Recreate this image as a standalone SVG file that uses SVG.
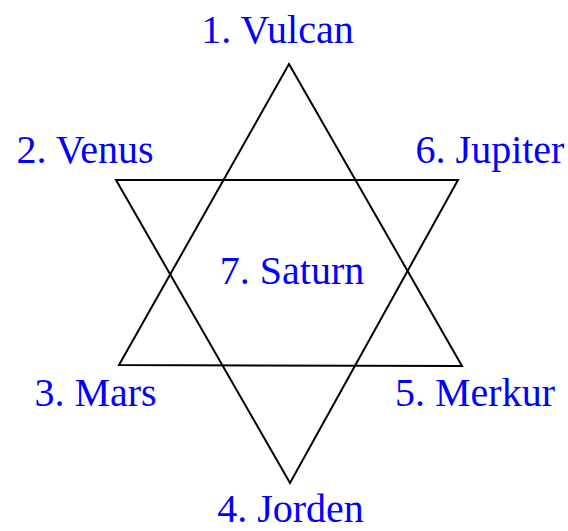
<svg xmlns="http://www.w3.org/2000/svg" width="568" height="531" viewBox="0 0 568 531">
<style>
.lbl{font-family:"Liberation Serif","Times New Roman",serif;font-size:40px;fill:#0000ff;text-anchor:middle}
.tri{fill:none;stroke:#000;stroke-width:2;stroke-linejoin:miter}
</style>
<rect width="568" height="531" fill="#fff"/>
<g id="connectors">
<polygon class="tri" points="289,64 462,366 119,365"/>
<polygon class="tri" points="116,180 458,180 290,483"/>
</g>
<g id="n1"><text class="lbl" x="277.5" y="43">1. Vulcan</text></g>
<g id="n2"><text class="lbl" x="85" y="163">2. Venus</text></g>
<g id="n6"><text class="lbl" x="490" y="163">6. Jupiter</text></g>
<g id="n7"><text class="lbl" x="292" y="284">7. Saturn</text></g>
<g id="n3"><text class="lbl" x="95.5" y="406">3. Mars</text></g>
<g id="n5"><text class="lbl" x="475" y="406">5. Merkur</text></g>
<g id="n4"><text class="lbl" x="290.5" y="522">4. Jorden</text></g>
</svg>
